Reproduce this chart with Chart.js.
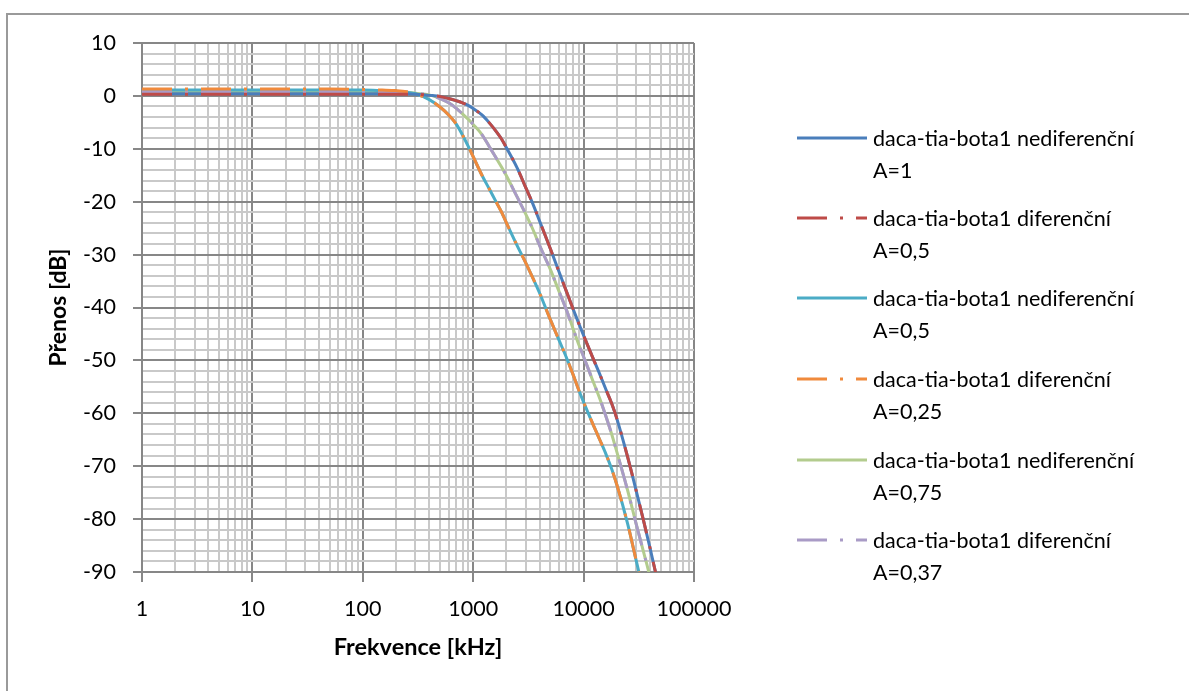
<!DOCTYPE html>
<html>
<head>
<meta charset="utf-8">
<script src="https://cdn.jsdelivr.net/npm/chart.js@4/dist/chart.umd.min.js"></script>
<style>
  html, body { margin: 0; padding: 0; background: #fff; }
  #wrap { position: relative; width: 1189px; height: 691px; overflow: hidden; }
  #frame { position: absolute; left: 6px; top: 13px; width: 1200px; height: 700px; border: 2px solid #9a9a9a; box-sizing: border-box; }
  #c { position: absolute; left: 0; top: 0; }
  #legend { position: absolute; left: 797px; top: 0; font-family: Lato, sans-serif; font-size: 21.5px; color: #000; }
  .item { position: absolute; left: 0; width: 380px; height: 64px; }
  .item svg { position: absolute; left: 0; top: 13px; }
  .item .txt { position: absolute; left: 76px; top: 0; line-height: 32px; white-space: nowrap; }
</style>
</head>
<body>
<div id="wrap">
  <div id="frame"></div>
  <canvas id="c" width="1189" height="691"></canvas>
  <div id="legend"></div>
</div>
<script>
// ---- data ----
const freq = [1, 2, 5, 10, 20, 50, 100, 150, 200, 250, 300, 400, 500, 600, 700, 800, 900, 1000,
  1200, 1400, 1600, 1800, 2000, 2500, 3000, 3500, 4000, 5000, 6000, 7000, 8000, 9000, 10000,
  12000, 14000, 16000, 18000, 20000, 25000, 30000, 35000, 40000, 45000, 50000];

const nediferA1 = [0.4, 0.4, 0.4, 0.4, 0.4, 0.4, 0.4, 0.4, 0.4, 0.4, 0.3, 0.1, -0.1, -0.5, -0.9, -1.3, -1.8, -2.4,
  -3.6, -5.1, -6.6, -8.1, -9.8, -13.6, -17.4, -20.6, -23.7, -28.9, -33.3, -37.0, -40.2, -42.9, -45.3,
  -49.3, -52.6, -55.6, -58.2, -61.0, -68.2, -74.7, -80.4, -85.5, -90.2, -94.3];
const diferA05 = [0.3, 0.3, 0.3, 0.3, 0.3, 0.3, 0.3, 0.3, 0.3, 0.3, 0.3, 0.1, -0.1, -0.5, -0.9, -1.3, -1.8, -2.4,
  -3.6, -5.1, -6.6, -8.1, -9.8, -13.6, -17.4, -20.6, -23.7, -28.9, -33.3, -37.0, -40.2, -42.9, -45.3,
  -49.3, -52.6, -55.6, -58.2, -61.0, -68.2, -74.7, -80.4, -85.5, -90.2, -94.3];
const nediferA05 = [1.1, 1.1, 1.1, 1.1, 1.1, 1.1, 1.1, 1.0, 0.9, 0.7, 0.4, -0.7, -2.1, -3.6, -5.3, -7.4, -9.5, -11.5,
  -15.0, -17.6, -19.9, -21.9, -24.0, -28.3, -31.6, -34.6, -37.3, -42.3, -46.2, -49.5, -52.6, -55.5, -57.9,
  -61.8, -65.0, -67.8, -70.6, -73.5, -80.8, -87.9, -93.9, null, null, null];
const diferA025 = [1.3, 1.3, 1.3, 1.3, 1.3, 1.3, 1.2, 1.1, 1.0, 0.8, 0.4, -0.7, -2.1, -3.6, -5.3, -7.4, -9.5, -11.5,
  -15.0, -17.6, -19.9, -21.9, -24.0, -28.3, -31.6, -34.6, -37.3, -42.3, -46.2, -49.5, -52.6, -55.5, -57.9,
  -61.8, -65.0, -67.8, -70.6, -73.5, -80.8, -87.9, -93.9, null, null, null];
const nediferA075 = [0.8, 0.8, 0.8, 0.8, 0.8, 0.8, 0.8, 0.8, 0.8, 0.7, 0.5, 0.2, -0.5, -1.3, -2.3, -3.4, -4.4, -5.4,
  -7.3, -9.6, -11.6, -13.4, -15.1, -19.1, -22.4, -25.4, -28.3, -32.8, -37.0, -40.5, -43.9, -46.9, -49.3,
  -53.6, -57.2, -60.7, -64.0, -67.3, -74.5, -81.0, -86.3, -91.0, -96.0, null];
const diferA037 = [0.8, 0.8, 0.8, 0.8, 0.8, 0.8, 0.8, 0.8, 0.8, 0.7, 0.5, 0.2, -0.5, -1.3, -2.3, -3.4, -4.4, -5.4,
  -7.3, -9.6, -11.6, -13.4, -15.1, -19.1, -22.4, -25.4, -28.3, -32.8, -37.0, -40.5, -43.9, -46.9, -49.3,
  -53.6, -57.2, -60.7, -64.0, -67.3, -74.5, -81.0, -86.3, -91.0, -96.0, null];

const seriesNames = [
  ['daca-tia-bota1 nediferenční', 'A=1'],
  ['daca-tia-bota1 diferenční', 'A=0,5'],
  ['daca-tia-bota1 nediferenční', 'A=0,5'],
  ['daca-tia-bota1 diferenční', 'A=0,25'],
  ['daca-tia-bota1 nediferenční', 'A=0,75'],
  ['daca-tia-bota1 diferenční', 'A=0,37']
];
const xTickValues = [1, 10, 100, 1000, 10000, 100000];
const yTickValues = [10, 0, -10, -20, -30, -40, -50, -60, -70, -80, -90];
const xAxisTitle = 'Frekvence [kHz]';
const yAxisTitle = 'Přenos [dB]';

// ---- styles ----
const colors = ['#4A7EBB', '#BE4B48', '#4BACC6', '#F08A3C', '#B3CC8E', '#A99BC6'];
const dashDot = [30, 13, 3, 13];
const FONT = 'Lato, "Open Sans", sans-serif';
const MAJOR = '#878787', MINOR = '#c9c9c9';

const allSeries = [nediferA1, diferA05, nediferA05, diferA025, nediferA075, diferA037];
const datasets = allSeries.map((vals, i) => ({
  label: seriesNames[i].join(' '),
  data: freq.map((f, k) => ({ x: f, y: vals[k] })),
  borderColor: colors[i],
  backgroundColor: colors[i],
  borderWidth: 3,
  borderDash: i % 2 === 1 ? dashDot : [],
  borderCapStyle: 'butt',
  pointRadius: 0,
  fill: false,
  cubicInterpolationMode: 'monotone',
  order: i % 2 === 1 ? 0 : 1
}));

const isPow10 = v => Math.abs(Math.log10(v) - Math.round(Math.log10(v))) < 1e-9;

new Chart(document.getElementById('c'), {
  type: 'line',
  data: { datasets },
  options: {
    responsive: false,
    animation: false,
    events: [],
    layout: { padding: { left: 0, top: 43, right: 495, bottom: 0 } },
    plugins: { legend: { display: false }, tooltip: { enabled: false } },
    scales: {
      x: {
        type: 'logarithmic',
        min: 1, max: 100000,
        afterFit: s => { s.height = 119; },
        afterBuildTicks: s => {
          const t = [];
          for (let d = 0; d < xTickValues.length; d++) {
            const base = xTickValues[d];
            const lim = d === xTickValues.length - 1 ? 1 : 9;
            for (let m = 1; m <= lim; m++) t.push({ value: base * m });
          }
          s.ticks = t;
        },
        ticks: {
          autoSkip: false, maxRotation: 0, minRotation: 0, padding: 14,
          color: '#000', font: { family: FONT, size: 21.5 },
          callback: v => isPow10(v) ? String(Math.round(v)) : ''
        },
        grid: {
          lineWidth: 2, tickLength: 10,
          color: c => (c.tick && isPow10(c.tick.value)) ? MAJOR : MINOR,
          tickColor: c => (c.tick && isPow10(c.tick.value)) ? MAJOR : 'rgba(0,0,0,0)'
        },
        border: { color: MAJOR, width: 2 },
        title: { display: true, text: xAxisTitle, color: '#000',
          font: { family: FONT, size: 23.5, weight: 'bold' }, padding: { top: 0, bottom: 29 } }
      },
      y: {
        type: 'linear',
        min: -90, max: 10,
        afterFit: s => { s.width = 142; },
        afterBuildTicks: s => {
          const t = [];
          for (let v = -90; v <= 10; v += 2) t.push({ value: v });
          s.ticks = t;
        },
        ticks: {
          autoSkip: false, padding: 17,
          color: '#000', font: { family: FONT, size: 21.5 },
          callback: v => yTickValues.includes(v) ? String(v) : ''
        },
        grid: {
          lineWidth: 2, tickLength: 9,
          color: c => (c.tick && c.tick.value % 10 === 0) ? MAJOR : MINOR,
          tickColor: c => (c.tick && c.tick.value % 10 === 0) ? MAJOR : 'rgba(0,0,0,0)'
        },
        border: { color: MAJOR, width: 2 },
        title: { display: true, text: yAxisTitle, color: '#000',
          font: { family: FONT, size: 23, weight: 'bold' }, padding: { top: 45, bottom: 0 } }
      }
    }
  }
});

// ---- legend (HTML text) ----
const legend = document.getElementById('legend');
const legendLineY = [138, 218, 298, 379, 460, 540];
seriesNames.forEach((nm, i) => {
  const it = document.createElement('div');
  it.className = 'item';
  it.style.top = (legendLineY[i] - 16) + 'px';
  const dash = i % 2 === 1 ? 'stroke-dasharray="' + dashDot.join(' ') + '"' : '';
  it.innerHTML = '<svg width="70" height="6"><line x1="0" y1="3" x2="70" y2="3" stroke="' + colors[i] +
    '" stroke-width="3" ' + dash + '/></svg><div class="txt">' + nm[0] + '<br>' + nm[1] + '</div>';
  legend.appendChild(it);
});
</script>
</body>
</html>
